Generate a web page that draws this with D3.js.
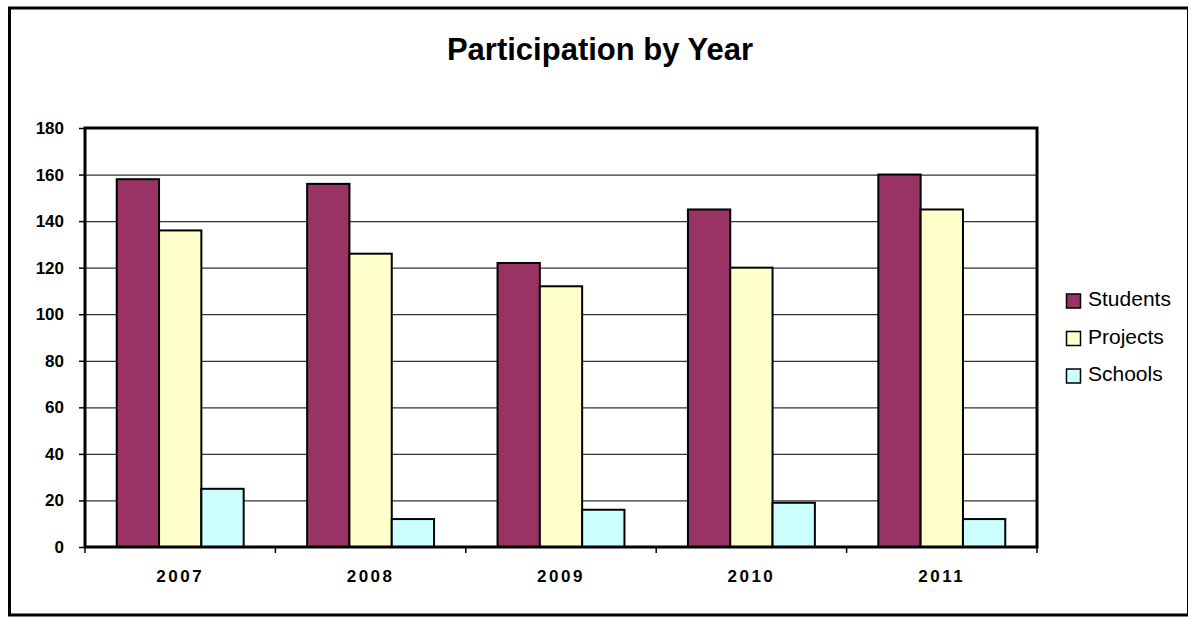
<!DOCTYPE html>
<html>
<head>
<meta charset="utf-8">
<script src="https://cdn.jsdelivr.net/npm/d3@7"></script>
<style>
  body { margin: 0; background: #fff; }
  svg { display: block; font-family: "Liberation Sans", Arial, sans-serif; }
</style>
</head>
<body>
<div class="chart"></div>
<script>
// Data
const years    = ["2007", "2008", "2009", "2010", "2011"];
const series   = ["Students", "Projects", "Schools"];
const students = [158, 156, 122, 145, 160];
const projects = [136, 126, 112, 120, 145];
const schools  = [25, 12, 16, 19, 12];
const yTicks   = [0, 20, 40, 60, 80, 100, 120, 140, 160, 180];
const colors   = ["#993366", "#FFFFCC", "#CCFFFF"];

const values = { Students: students, Projects: projects, Schools: schools };
const data = years.map((yr, i) => ({ year: yr, vals: series.map(s => ({ name: s, value: values[s][i] })) }));

// Layout
const W = 1188, H = 617;
const plot = { left: 85, right: 1037, top: 128, bottom: 547 };

const svg = d3.select(".chart").append("svg")
    .attr("width", W)
    .attr("height", H);

// outer frame
svg.append("rect")
    .attr("x", 9.5).attr("y", 8)
    .attr("width", 1179).attr("height", 607)
    .attr("fill", "#fff")
    .attr("stroke", "#000")
    .attr("stroke-width", 3);

// Scales
const x = d3.scaleBand().domain(years)
    .range([plot.left, plot.right])
    .paddingInner(1.5 / 4.5)
    .paddingOuter(0.75 / 4.5);
const xs = d3.scaleBand().domain(series).range([0, x.bandwidth()]).padding(0);
const y = d3.scaleLinear().domain([0, 180]).range([plot.bottom, plot.top]);
const color = d3.scaleOrdinal().domain(series).range(colors);

// title
svg.append("text")
    .attr("x", 600).attr("y", 60)
    .attr("text-anchor", "middle")
    .style("font-size", "31px")
    .style("font-weight", "bold")
    .text("Participation by Year");

// gridlines
svg.append("g")
    .attr("transform", "translate(" + plot.left + ",0)")
    .call(d3.axisLeft(y).tickValues(yTicks.slice(1, -1)).tickSize(-(plot.right - plot.left)).tickFormat(""))
    .call(g => g.select(".domain").remove())
    .selectAll("line")
    .attr("stroke", "#333")
    .attr("stroke-width", 1.2);

// bars
const grp = svg.selectAll(".year")
    .data(data)
    .enter().append("g")
    .attr("class", "year")
    .attr("transform", d => "translate(" + x(d.year) + ",0)");

grp.selectAll("rect")
    .data(d => d.vals)
    .enter().append("rect")
    .attr("x", d => xs(d.name))
    .attr("y", d => y(d.value))
    .attr("width", xs.bandwidth())
    .attr("height", d => y(0) - y(d.value))
    .attr("fill", d => color(d.name))
    .attr("stroke", "#000")
    .attr("stroke-width", 2);

// plot border
svg.append("rect")
    .attr("x", plot.left).attr("y", plot.top)
    .attr("width", plot.right - plot.left)
    .attr("height", plot.bottom - plot.top)
    .attr("fill", "none")
    .attr("stroke", "#000")
    .attr("stroke-width", 3);

// y axis
svg.append("g")
    .attr("transform", "translate(" + plot.left + ",0)")
    .call(d3.axisLeft(y).tickValues(yTicks).tickSize(6).tickPadding(15))
    .call(g => g.select(".domain").remove())
    .call(g => g.selectAll("line").attr("stroke", "#000").attr("stroke-width", 1.5))
    .selectAll("text")
    .attr("fill", "#000")
    .style("font-family", "'Liberation Sans', Arial, sans-serif")
    .style("font-size", "17px")
    .style("font-weight", "bold");

// x axis: labels at centers, ticks at category boundaries
svg.append("g")
    .attr("transform", "translate(0," + plot.bottom + ")")
    .call(d3.axisBottom(x).tickSize(0))
    .call(g => g.select(".domain").remove())
    .selectAll("text")
    .attr("y", 35)
    .attr("dy", 0)
    .attr("fill", "#000")
    .style("font-family", "'Liberation Sans', Arial, sans-serif")
    .style("font-size", "17px")
    .style("font-weight", "bold")
    .style("letter-spacing", "2.5px");

const half = (x.step() - x.bandwidth()) / 2;
const bounds = years.map(d => x(d) - half).concat([plot.right]);
svg.append("g").selectAll("line")
    .data(bounds)
    .enter().append("line")
    .attr("x1", d => d).attr("x2", d => d)
    .attr("y1", plot.bottom).attr("y2", plot.bottom + 6)
    .attr("stroke", "#000")
    .attr("stroke-width", 1.5);

// legend
const legend = svg.selectAll(".legend")
    .data(series)
    .enter().append("g")
    .attr("class", "legend")
    .attr("transform", (d, i) => "translate(1066," + (306 + i * 37.5) + ")");

legend.append("rect")
    .attr("x", 0.5).attr("y", -12)
    .attr("width", 14).attr("height", 14)
    .attr("fill", color)
    .attr("stroke", "#000")
    .attr("stroke-width", 1.5);

legend.append("text")
    .attr("x", 22)
    .attr("y", 0)
    .style("font-size", "21px")
    .text(d => d);
</script>
</body>
</html>
